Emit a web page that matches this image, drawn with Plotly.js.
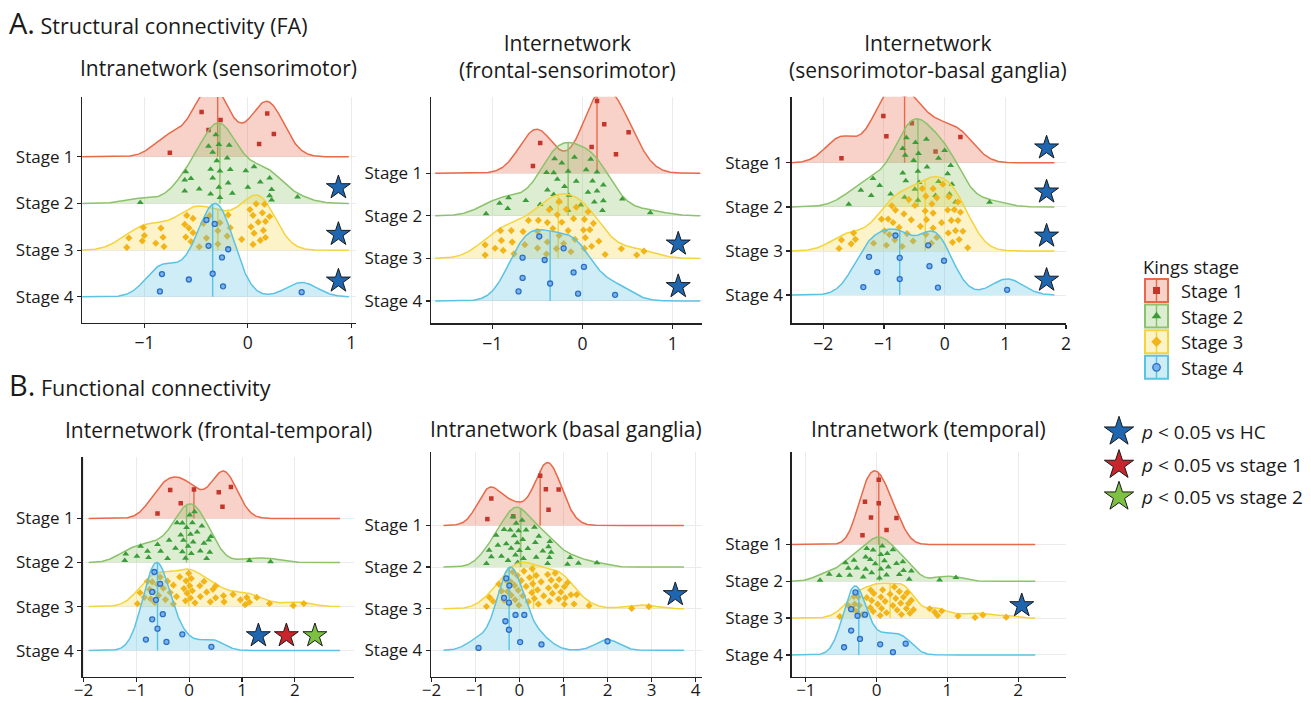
<!DOCTYPE html>
<html><head><meta charset="utf-8">
<script src="https://cdn.plot.ly/plotly-3.0.1.min.js"></script>
<style>html,body{margin:0;padding:0;background:#fff}#chart{width:1311px;height:703px}</style>
</head><body><div id="chart"></div>
<script>
// ---------------- DATA ----------------
const stageNames = ['Stage 1', 'Stage 2', 'Stage 3', 'Stage 4'];

// A. Structural connectivity (FA) — Intranetwork (sensorimotor)
const a1Stage1 = [-0.754, -0.447, -0.38, -0.32, -0.264, 0.109, 0.187, 0.251];
const a1Stage2 = [-1.04, -0.61, -0.61, -0.60, -0.55, -0.47, -0.38, -0.36, -0.36, -0.34, -0.34, -0.31, -0.30, -0.28, -0.28, -0.27, -0.27, -0.20, -0.19, -0.18, -0.17, -0.15, -0.02, 0.00, 0.06, 0.12, 0.21, 0.21, 0.23, 0.23, 0.48];
const a1Stage3 = [-1.17, -1.15, -1.02, -1.01, -1.00, -0.89, -0.84, -0.82, -0.81, -0.61, -0.60, -0.59, -0.57, -0.55, -0.53, -0.53, -0.47, -0.43, -0.40, -0.37, -0.29, -0.29, -0.27, -0.20, -0.19, -0.17, -0.06, 0.02, 0.03, 0.05, 0.05, 0.06, 0.08, 0.10, 0.12, 0.14, 0.15, 0.16, 0.17, 0.17, 0.21];
const a1Stage4 = [-0.85, -0.83, -0.57, -0.40, -0.38, -0.34, -0.32, -0.25, -0.24, -0.19, 0.52];
const a1SigStage = [2, 3, 4];
const a1SigVs = ['HC', 'HC', 'HC'];

// Internetwork (frontal-sensorimotor)
const a2Stage1 = [-0.55, -0.47, 0.10, 0.16, 0.24, 0.37, 0.51];
const a2Stage2 = [-1.07, -0.92, -0.83, -0.82, -0.63, -0.47, -0.40, -0.39, -0.36, -0.32, -0.32, -0.31, -0.28, -0.26, -0.23, -0.20, -0.16, -0.16, -0.15, -0.09, -0.07, -0.02, 0.04, 0.06, 0.09, 0.11, 0.13, 0.16, 0.16, 0.22, 0.23, 0.23, 0.44, 0.75];
const a2Stage3 = [-1.08, -1.08, -0.97, -0.91, -0.90, -0.88, -0.79, -0.78, -0.76, -0.66, -0.64, -0.60, -0.50, -0.50, -0.49, -0.48, -0.40, -0.39, -0.39, -0.37, -0.33, -0.29, -0.28, -0.26, -0.26, -0.23, -0.21, -0.18, -0.16, -0.13, -0.10, -0.085, -0.07, 0.01, 0.02, 0.02, 0.03, 0.06, 0.08, 0.10, 0.12, 0.18, 0.25, 0.43, 0.60, 0.68];
const a2Stage4 = [-0.71, -0.665, -0.665, -0.48, -0.42, -0.36, -0.21, -0.10, -0.05, 0.015, 0.36];
const a2SigStage = [3, 4];
const a2SigVs = ['HC', 'HC'];

// Internetwork (sensorimotor-basal ganglia)
const a3Stage1 = [-1.70, -1.01, -0.96, -0.66, -0.54, -0.15, 0.26];
const a3Stage2 = [-1.58, -1.38, -1.21, -1.18, -1.07, -0.89, -0.69, -0.69, -0.66, -0.65, -0.64, -0.63, -0.51, -0.49, -0.48, -0.44, -0.44, -0.43, -0.42, -0.30, -0.29, -0.15, -0.10, -0.10, 0.00, 0.05, 0.08, 0.10, 0.12, 0.18, 0.74];
const a3Stage3 = [-1.74, -1.70, -1.54, -1.50, -1.47, -1.17, -1.04, -0.99, -0.96, -0.93, -0.91, -0.87, -0.85, -0.82, -0.81, -0.75, -0.70, -0.67, -0.62, -0.59, -0.55, -0.52, -0.49, -0.40, -0.37, -0.32, -0.31, -0.31, -0.30, -0.22, -0.21, -0.19, -0.19, -0.19, -0.13, -0.13, -0.05, -0.03, 0.05, 0.06, 0.07, 0.11, 0.13, 0.16, 0.18, 0.22, 0.22, 0.24, 0.26, 0.30, 0.38];
const a3Stage4 = [-1.34, -1.245, -1.11, -0.81, -0.74, -0.74, -0.27, -0.25, -0.11, -0.01, 1.03];
const a3SigStage = [1, 2, 3, 4];
const a3SigVs = ['HC', 'HC', 'HC', 'HC'];

// B. Functional connectivity — Internetwork (frontal-temporal)
const b1Stage1 = [-0.60, -0.36, -0.16, 0.09, 0.56, 0.63, 0.79];
const b1Stage2 = [-1.22, -1.20, -0.99, -0.92, -0.79, -0.77, -0.60, -0.54, -0.41, -0.38, -0.26, -0.23, -0.16, -0.13, -0.13, -0.11, -0.07, -0.05, -0.02, 0.01, 0.025, 0.04, 0.06, 0.075, 0.10, 0.15, 0.21, 0.24, 0.28, 0.33, 0.37, 0.39, 0.41, 1.14, 1.54];
const b1Stage3 = [-0.98, -0.93, -0.85, -0.79, -0.75, -0.73, -0.70, -0.68, -0.65, -0.60, -0.58, -0.55, -0.49, -0.45, -0.41, -0.36, -0.30, -0.30, -0.24, -0.18, -0.10, -0.07, -0.06, -0.04, -0.01, 0.01, 0.025, 0.04, 0.06, 0.11, 0.20, 0.21, 0.28, 0.33, 0.40, 0.45, 0.50, 0.50, 0.65, 0.66, 0.83, 0.97, 1.06, 1.09, 1.14, 1.28, 1.52, 1.97, 2.17];
const b1Stage4 = [-0.82, -0.70, -0.70, -0.66, -0.63, -0.60, -0.55, -0.50, -0.43, -0.13, 0.42];
const b1SigStage = [4, 4, 4];
const b1SigVs = ['HC', 'stage 1', 'stage 2'];

// Intranetwork (basal ganglia)
const b2Stage1 = [-0.73, -0.64, -0.14, 0.47, 0.60, 0.66, 0.89];
const b2Stage2 = [-0.75, -0.69, -0.64, -0.53, -0.49, -0.41, -0.35, -0.30, -0.26, -0.21, -0.19, -0.15, -0.12, -0.09, -0.075, -0.05, -0.04, -0.02, 0.00, 0.06, 0.075, 0.09, 0.15, 0.19, 0.34, 0.36, 0.38, 0.44, 0.53, 0.64, 0.66, 0.68, 0.69, 0.72, 1.09, 1.15, 1.34, 1.76];
const b2Stage3 = [-0.75, -0.68, -0.60, -0.47, -0.41, -0.35, -0.30, -0.27, -0.23, -0.20, -0.19, -0.15, -0.11, -0.10, -0.05, -0.03, -0.015, 0.04, 0.075, 0.10, 0.15, 0.20, 0.23, 0.28, 0.29, 0.30, 0.34, 0.38, 0.41, 0.43, 0.49, 0.55, 0.64, 0.66, 0.68, 0.72, 0.75, 0.81, 0.83, 0.89, 0.90, 0.94, 1.02, 1.02, 1.04, 1.09, 1.17, 1.24, 1.30, 1.58, 2.55, 2.94];
const b2Stage4 = [-0.93, -0.35, -0.32, -0.30, -0.24, -0.24, -0.23, -0.09, 0.015, 0.11, 0.50, 2.00];
const b2SigStage = [3];
const b2SigVs = ['HC'];

// Intranetwork (temporal)
const b3Stage1 = [-0.20, -0.165, -0.08, 0.03, 0.03, 0.14, 0.28];
const b3Stage2 = [-0.80, -0.67, -0.53, -0.44, -0.40, -0.38, -0.32, -0.28, -0.19, -0.155, -0.155, -0.14, -0.09, -0.07, -0.05, -0.02, 0.04, 0.06, 0.06, 0.08, 0.11, 0.14, 0.15, 0.165, 0.23, 0.28, 0.32, 0.37, 0.38, 0.46, 0.49, 0.89, 1.12];
const b3Stage3 = [-0.52, -0.40, -0.33, -0.32, -0.31, -0.28, -0.26, -0.245, -0.20, -0.14, -0.09, -0.085, -0.07, -0.05, -0.04, 0.015, 0.05, 0.06, 0.07, 0.085, 0.12, 0.14, 0.19, 0.23, 0.25, 0.27, 0.29, 0.32, 0.34, 0.35, 0.38, 0.42, 0.43, 0.45, 0.47, 0.49, 0.52, 0.75, 0.82, 0.86, 0.92, 1.15, 1.39, 1.50, 1.83];
const b3Stage4 = [-0.46, -0.36, -0.36, -0.30, -0.27, -0.235, -0.165, 0.05, 0.23, 0.41];
const b3SigStage = [3];
const b3SigVs = ['HC'];

const panelTitles = ['Intranetwork (sensorimotor)', 'Internetwork<br>(frontal-sensorimotor)', 'Internetwork<br>(sensorimotor-basal ganglia)',
  'Internetwork (frontal-temporal)', 'Intranetwork (basal ganglia)', 'Intranetwork (temporal)'];
const xTickVals = [[-1, 0, 1], [-1, 0, 1], [-2, -1, 0, 1, 2], [-2, -1, 0, 1, 2], [-2, -1, 0, 1, 2, 3, 4], [-1, 0, 1, 2]];
const sigLabels = ['HC', 'stage 1', 'stage 2'];

// ---------------- LAYOUT / STYLE ----------------
const W = 1311, H = 703;
const FONT = '"Open Sans", "Noto Sans", sans-serif';
const TXT = '#1a1a1a';
const STAGE_STYLE = [
  {line: '#e8694a', fill: 'rgba(232,105,74,0.30)', marker: {symbol: 'square', size: 4.5, color: '#c4352b'}},
  {line: '#8cc26b', fill: 'rgba(140,194,107,0.30)', marker: {symbol: 'triangle-up', size: 6, color: '#3a9d3a'}},
  {line: '#f5d33a', fill: 'rgba(245,211,58,0.28)', marker: {symbol: 'diamond', size: 5.5, color: '#f2b416'}},
  {line: '#5cc2e4', fill: 'rgba(92,194,228,0.30)', marker: {symbol: 'circle', size: 5, color: '#7ab2ea', line: {color: '#2a6fc6', width: 1.3}}}
];
const STAR_COLOR = {'HC': '#1f66b0', 'stage 1': '#c8252c', 'stage 2': '#7dc143'};

const panels = [
  {groups: [a1Stage1, a1Stage2, a1Stage3, a1Stage4], sigStage: a1SigStage, sigVs: a1SigVs,
   box: [82.3, 356, 97, 323], xr: [-1.60, 1.045], yr: [-0.56, 4.28], starX: {'HC': 0.875}, title: [218, 68], standoff: 0, tf: 17.5},
  {groups: [a2Stage1, a2Stage2, a2Stage3, a2Stage4], sigStage: a2SigStage, sigVs: a2SigVs,
   box: [431, 701.7, 96.7, 323.3], xr: [-1.68, 1.32], yr: [-0.525, 4.80], starX: {'HC': 1.06}, title: [567, 56], standoff: 0, tf: 17.5},
  {groups: [a3Stage1, a3Stage2, a3Stage3, a3Stage4], sigStage: a3SigStage, sigVs: a3SigVs,
   box: [791.7, 1066, 96.7, 323.3], xr: [-2.52, 2.0], yr: [-0.64, 4.5], starX: {'HC': 1.68}, title: [928, 56], standoff: 0, tf: 17.5},
  {groups: [b1Stage1, b1Stage2, b1Stage3, b1Stage4], sigStage: b1SigStage, sigVs: b1SigVs,
   box: [82.5, 354, 457.3, 677], xr: [-2.02, 3.12], yr: [-0.60, 4.39], starX: {'HC': 1.31, 'stage 1': 1.84, 'stage 2': 2.38}, title: [218, 430], standoff: -7, tf: 17},
  {groups: [b2Stage1, b2Stage2, b2Stage3, b2Stage4], sigStage: b2SigStage, sigVs: b2SigVs,
   box: [431, 701.7, 451.7, 677], xr: [-2.01, 4.14], yr: [-0.64, 4.77], starX: {'HC': 3.54}, title: [566, 429], standoff: -7, tf: 17},
  {groups: [b3Stage1, b3Stage2, b3Stage3, b3Stage4], sigStage: b3SigStage, sigVs: b3SigVs,
   box: [791.7, 1066, 451.7, 677], xr: [-1.20, 2.675], yr: [-0.60, 5.52], starX: {'HC': 2.05}, title: [928, 429], standoff: -7, tf: 17}
];

// ---------------- density helpers (ggridges-like: joint bw.nrd0, gaussian kernel) ----------------
function q7(s, p) { const h = (s.length - 1) * p, lo = Math.floor(h); return lo + 1 < s.length ? s[lo] + (h - lo) * (s[lo + 1] - s[lo]) : s[lo]; }
function nrd0(x) {
  const s = x.slice().sort((a, b) => a - b), n = s.length;
  const mean = s.reduce((a, b) => a + b, 0) / n;
  const sd = Math.sqrt(s.reduce((a, b) => a + (b - mean) * (b - mean), 0) / (n - 1));
  let lo = Math.min(sd, (q7(s, 0.75) - q7(s, 0.25)) / 1.34);
  if (!(lo > 0)) lo = sd || Math.abs(s[0]) || 1;
  return 0.9 * lo * Math.pow(n, -0.2);
}
function dens(x, bw, t) { let f = 0; for (const v of x) { const z = (t - v) / bw; f += Math.exp(-0.5 * z * z); } return f / (x.length * bw * Math.sqrt(2 * Math.PI)); }
function frac(v) { return v - Math.floor(v); }

const traces = [];
const layout = {
  width: W, height: H, margin: {l: 0, r: 0, t: 0, b: 0}, showlegend: false,
  paper_bgcolor: '#fff', plot_bgcolor: 'rgba(0,0,0,0)', font: {family: FONT, color: TXT},
  annotations: [], hovermode: false
};

panels.forEach((P, pi) => {
  const k = pi + 1, xa = 'x' + (k === 1 ? '' : k), ya = 'y' + (k === 1 ? '' : k);
  layout['xaxis' + (k === 1 ? '' : k)] = {
    domain: [P.box[0] / W, P.box[1] / W], range: P.xr, anchor: ya, tickvals: xTickVals[pi],
    showline: true, linecolor: '#222', linewidth: 1.3, ticks: 'outside', ticklen: 4, tickwidth: 1.2, tickcolor: '#222',
    showgrid: true, gridcolor: '#ebebeb', gridwidth: 1, zeroline: false, fixedrange: true,
    ticklabelstandoff: P.standoff,
    tickfont: {size: P.tf, color: TXT, family: FONT}
  };
  layout['yaxis' + (k === 1 ? '' : k)] = {
    domain: [1 - P.box[3] / H, 1 - P.box[2] / H], range: P.yr, anchor: xa,
    tickvals: [3, 2, 1, 0], ticktext: stageNames,
    showline: true, linecolor: '#222', linewidth: 1.3, ticks: 'outside', ticklen: 4, tickwidth: 1.2, tickcolor: '#222',
    showgrid: true, gridcolor: '#ebebeb', gridwidth: 1, zeroline: false, fixedrange: true,
    tickfont: {size: 17, color: TXT, family: FONT}
  };
  const bw = P.groups.map(nrd0).reduce((a, b) => a + b, 0) / P.groups.length;
  const all = [].concat(...P.groups);
  const from = Math.min(...all) - 3 * bw, to = Math.max(...all) + 3 * bw;
  const N = 400, grid = [];
  for (let i = 0; i < N; i++) grid.push(from + (to - from) * i / (N - 1));
  const dd = P.groups.map(g => grid.map(t => dens(g, bw, t)));
  const maxD = Math.max(...dd.map(a => Math.max(...a)));
  const sc = 2.0 / maxD;
  P.groups.forEach((g, gi) => {
    const st = STAGE_STYLE[gi], base = 3 - gi;
    traces.push({type: 'scatter', mode: 'lines', x: grid, y: dd[gi].map(v => base + v * sc), xaxis: xa, yaxis: ya,
      line: {color: st.line, width: 1.5, shape: 'linear'}, fill: 'toself', fillcolor: st.fill, hoverinfo: 'skip'});
    const s = g.slice().sort((a, b) => a - b), med = q7(s, 0.5);
    traces.push({type: 'scatter', mode: 'lines', x: [med, med], y: [base, base + dens(g, bw, med) * sc], xaxis: xa, yaxis: ya,
      line: {color: st.line, width: 1.4}, hoverinfo: 'skip'});
    // sina-style vertical placement under the ridge (deterministic spread)
    traces.push({type: 'scatter', mode: 'markers', x: g,
      y: g.map((v, i) => base + (0.07 + 0.86 * frac(0.5 + (i + 1) * 0.6180339887)) * dens(g, bw, v) * sc),
      xaxis: xa, yaxis: ya, marker: st.marker, hoverinfo: 'skip'});
  });
  // significance stars
  traces.push({type: 'scatter', mode: 'markers', xaxis: xa, yaxis: ya, hoverinfo: 'skip',
    x: P.sigVs.map(v => P.starX[v]), y: P.sigStage.map(s => 4 - s + 0.34),
    marker: {symbol: 'star', size: 18, color: P.sigVs.map(v => STAR_COLOR[v]), line: {color: '#1a1a1a', width: 1}}});
  layout.annotations.push({xref: 'x7', yref: 'y7', x: P.title[0], y: P.title[1], text: panelTitles[pi],
    showarrow: false, xanchor: 'center', yanchor: 'middle', font: {size: 21, color: TXT, family: FONT}});
});

// overlay pixel-space axis for section labels and the legend
layout.xaxis7 = {domain: [0, 1], range: [0, W], visible: false, fixedrange: true, anchor: 'y7'};
layout.yaxis7 = {domain: [0, 1], range: [H, 0], visible: false, fixedrange: true, anchor: 'x7'};
layout.annotations.push(
  {xref: 'x7', yref: 'y7', x: 7, y: 22, xanchor: 'left', yanchor: 'middle', showarrow: false,
   text: '<span style="font-size:29px">A.</span> Structural connectivity (FA)', font: {size: 21.5, color: TXT, family: FONT}},
  {xref: 'x7', yref: 'y7', x: 7, y: 384, xanchor: 'left', yanchor: 'middle', showarrow: false,
   text: '<span style="font-size:29px">B.</span> Functional connectivity', font: {size: 21.5, color: TXT, family: FONT}},
  {xref: 'x7', yref: 'y7', x: 1141, y: 266, xanchor: 'left', yanchor: 'middle', showarrow: false,
   text: 'Kings stage', font: {size: 18.3, color: TXT, family: FONT}}
);
const keyX = 1156.5, keyY0 = 290.5, keyStep = 25.6;
stageNames.forEach((nm, gi) => {
  const st = STAGE_STYLE[gi], yc = keyY0 + gi * keyStep;
  traces.push({type: 'scatter', mode: 'markers', xaxis: 'x7', yaxis: 'y7', x: [keyX], y: [yc], hoverinfo: 'skip',
    marker: {symbol: 'square', size: 23, color: st.fill, line: {color: st.line, width: 2}}});
  traces.push({type: 'scatter', mode: 'lines', xaxis: 'x7', yaxis: 'y7', x: [keyX, keyX], y: [yc - 11.5, yc + 11.5], hoverinfo: 'skip',
    line: {color: st.line, width: 1.5}});
  traces.push({type: 'scatter', mode: 'markers', xaxis: 'x7', yaxis: 'y7', x: [keyX], y: [yc], hoverinfo: 'skip',
    marker: Object.assign({}, st.marker, {size: st.marker.size + 2.5})});
  layout.annotations.push({xref: 'x7', yref: 'y7', x: 1179, y: yc, xanchor: 'left', yanchor: 'middle', showarrow: false,
    text: nm, font: {size: 18.3, color: TXT, family: FONT}});
});
const starLegY = [431.7, 465, 496.7];
sigLabels.forEach((lab, i) => {
  traces.push({type: 'scatter', mode: 'markers', xaxis: 'x7', yaxis: 'y7', x: [1119], y: [starLegY[i]], hoverinfo: 'skip',
    marker: {symbol: 'star', size: 22, color: STAR_COLOR[lab], line: {color: '#1a1a1a', width: 1}}});
  layout.annotations.push({xref: 'x7', yref: 'y7', x: 1139, y: starLegY[i], xanchor: 'left', yanchor: 'middle', showarrow: false,
    text: '<i>p</i> &lt; 0.05 vs ' + lab, font: {size: 19, color: TXT, family: FONT}});
});

Plotly.newPlot('chart', traces, layout, {displayModeBar: false, staticPlot: true});
</script></body></html>
